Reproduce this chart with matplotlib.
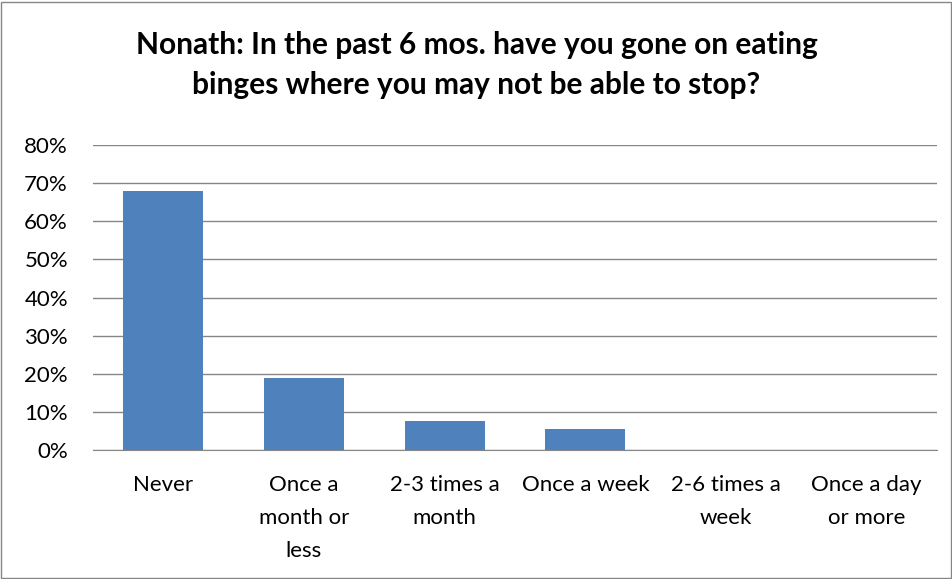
import matplotlib.pyplot as plt
from matplotlib.patches import Rectangle
import numpy as np

plt.rcParams['font.family'] = ['Lato', 'DejaVu Sans']

# data
categories = ['Never', 'Once a\nmonth or\nless', '2-3 times a\nmonth', 'Once a week',
              '2-6 times a\nweek', 'Once a day\nor more']
values = [0.68, 0.188, 0.075, 0.056, 0.0, 0.0]
title = 'Nonath: In the past 6 mos. have you gone on eating\nbinges where you may not be able to stop?'

fig = plt.figure(figsize=(9.53, 5.79), dpi=100)
ax = fig.add_axes([93 / 953, 1 - 450 / 579, (937 - 93) / 953, (450 - 145) / 579])

x = np.arange(len(categories))
ax.bar(x, values, width=0.57, color='#4F81BD', zorder=3)

ax.set_xlim(-0.5, len(categories) - 0.5)
ax.set_ylim(0, 0.8)
ax.set_yticks(np.arange(0, 0.81, 0.1))
ax.set_yticklabels([f'{int(round(v * 100))}%' for v in np.arange(0, 0.81, 0.1)], fontsize=16)
ax.set_xticks(x)
ax.set_xticklabels(categories, fontsize=16, va='top')
for lbl in ax.get_xticklabels():
    lbl.set_linespacing(1.8)
ax.tick_params(axis='x', length=0, pad=18)
ax.tick_params(axis='y', length=0, pad=18)
ax.grid(axis='y', color='#868686', linewidth=1, zorder=0)
for s in ['top', 'right', 'left']:
    ax.spines[s].set_visible(False)
ax.spines['bottom'].set_color('#868686')
ax.spines['bottom'].set_zorder(4)

fig.text(0.5, 1 - 65 / 579, title, ha='center', va='center', fontsize=21.5,
         fontweight='bold', linespacing=1.55)

fig.patches.append(Rectangle((1 / 953, 1 / 579), 950 / 953, 576 / 579, transform=fig.transFigure,
                             fill=False, edgecolor='#868686', linewidth=1))

fig.savefig('out.png', dpi=100)
